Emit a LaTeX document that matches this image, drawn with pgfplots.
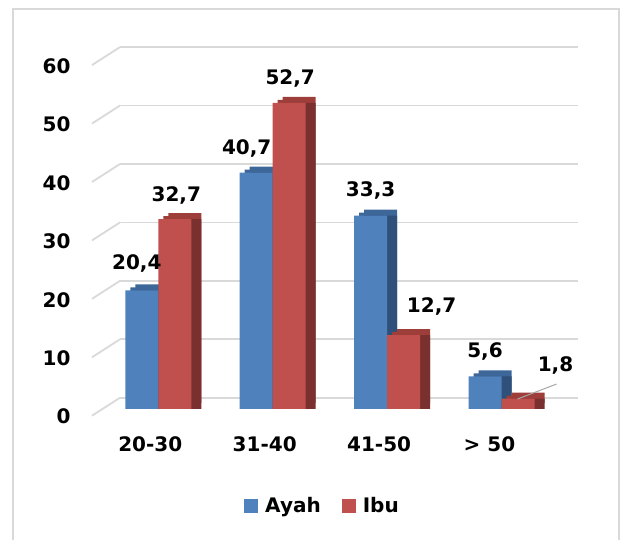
\documentclass[border=0pt]{standalone}
\usepackage{pgfplots}
\pgfplotsset{compat=1.18}
\usepackage{pgfplotstable}
\usepackage{fontspec}
\setmainfont{DejaVu Sans}
\definecolor{bF}{HTML}{4F81BD}
\definecolor{bT}{HTML}{3D6699}
\definecolor{bS}{HTML}{2F507A}
\definecolor{rF}{HTML}{C0504D}
\definecolor{rT}{HTML}{9E3E3B}
\definecolor{rS}{HTML}{7A302E}
\definecolor{gridc}{HTML}{D9D9D9}
\newcommand{\lf}{\fontsize{20}{24}\selectfont\bfseries}
\pgfplotstableread{
x y lab dx dy
0 20.4 20,4 -5 27
1 40.7 40,7 -9.5 24.5
2 33.3 33,3 0 25.5
3 5.6 5,6 0 25
}\ayah
\pgfplotstableread{
x y lab dx dy
0 32.7 32,7 1.5 24
1 52.7 52,7 1 24.7
2 12.7 12,7 28 28.5
3 1.8 1,8 37.5 33.5
}\ibu
\pgfplotsset{legimg/.style={legend image code/.code={\fill[##1, draw=none] (0pt,-7pt) rectangle (14pt,7pt);}}}
\begin{document}
\begin{tikzpicture}[x=1pt,y=1pt]
\path (0,0) rectangle (621,540);
\draw[gridc, line width=2pt] (13,0) -- (13,531) -- (619,531) -- (619,0);
% back wall with grid
\begin{axis}[at={(120pt,142.3pt)}, anchor=south west, scale only axis,
  width=458pt, height=350.6pt, xmin=-0.5, xmax=3.5, ymin=0, ymax=60,
  axis line style={draw=none}, xtick=\empty, ytick={0,10,...,60},
  ymajorgrids, grid style={draw=gridc, line width=1.8pt}, major tick length=0pt,
  /pgf/number format/assume math mode=true,
  yticklabel style={font=\lf, xshift=-46pt, yshift=-19pt}, clip=false]
\pgfplotsinvokeforeach{0,10,20,30,40,50,60}{\draw[gridc, line width=1.8pt] (axis cs:-0.5,#1) -- ++(-28pt,-18pt);}
\end{axis}
% bars
\begin{axis}[at={(101.1pt,131pt)}, anchor=south west, scale only axis,
  width=457.6pt, height=348.6pt, xmin=-0.5, xmax=3.5, ymin=0, ymax=60,
  axis line style={draw=none}, ytick=\empty, xtick={0,1,2,3},
  xticklabels={20-30,31-40,41-50,{> 50\hspace*{8pt}}}, major tick length=0pt,
  xticklabel style={font=\lf, xshift=-8pt, yshift=-24pt},
  ybar=0pt, bar width=33pt, clip=false,
  legend style={at={(0.4838,-0.278)}, anchor=center, draw=none, fill=none,
    legend columns=2, font=\lf,
    /tikz/every odd column/.append style={column sep=5pt},
    /tikz/every even column/.append style={column sep=19pt}}]
% Ayah
\addplot[fill=bT, draw=none, bar shift=-6.5pt, yshift=6pt, forget plot] table[x=x,y=y]{\ayah};
\addplot[fill=bT, draw=none, bar shift=-11.5pt, yshift=3pt, forget plot] table[x=x,y=y]{\ayah};
\addplot[fill=bS, draw=none, bar shift=-6.5pt, forget plot] table[x=x,y=y]{\ayah};
\addplot[fill=bF, draw=none, bar shift=-16.5pt, forget plot,
  point meta=explicit symbolic, nodes near coords,
  visualization depends on={\thisrow{dx} \as \dx},
  visualization depends on={\thisrow{dy} \as \dy},
  every node near coord/.append style={font=\lf, anchor=center, xshift=\dx pt, yshift=\dy pt}]
  table[x=x,y=y,meta=lab]{\ayah};
% Ibu
\addplot[fill=rT, draw=none, bar shift=26.5pt, yshift=6pt, forget plot] table[x=x,y=y]{\ibu};
\addplot[fill=rT, draw=none, bar shift=21.5pt, yshift=3pt, forget plot] table[x=x,y=y]{\ibu};
\addplot[fill=rS, draw=none, bar shift=26.5pt, forget plot] table[x=x,y=y]{\ibu};
\addplot[fill=rF, draw=none, bar shift=16.5pt, forget plot,
  point meta=explicit symbolic, nodes near coords,
  visualization depends on={\thisrow{dx} \as \dx},
  visualization depends on={\thisrow{dy} \as \dy},
  every node near coord/.append style={font=\lf, anchor=center, xshift=\dx pt, yshift=\dy pt}]
  table[x=x,y=y,meta=lab]{\ibu};
\draw[gray!70, line width=1pt] (axis cs:3,1.8) ++(16pt,-0.5pt) -- ++(39pt,15pt);
\addlegendimage{legimg, fill=bF}\addlegendentry{Ayah}
\addlegendimage{legimg, fill=rF}\addlegendentry{Ibu}
\end{axis}
\end{tikzpicture}
\end{document}
